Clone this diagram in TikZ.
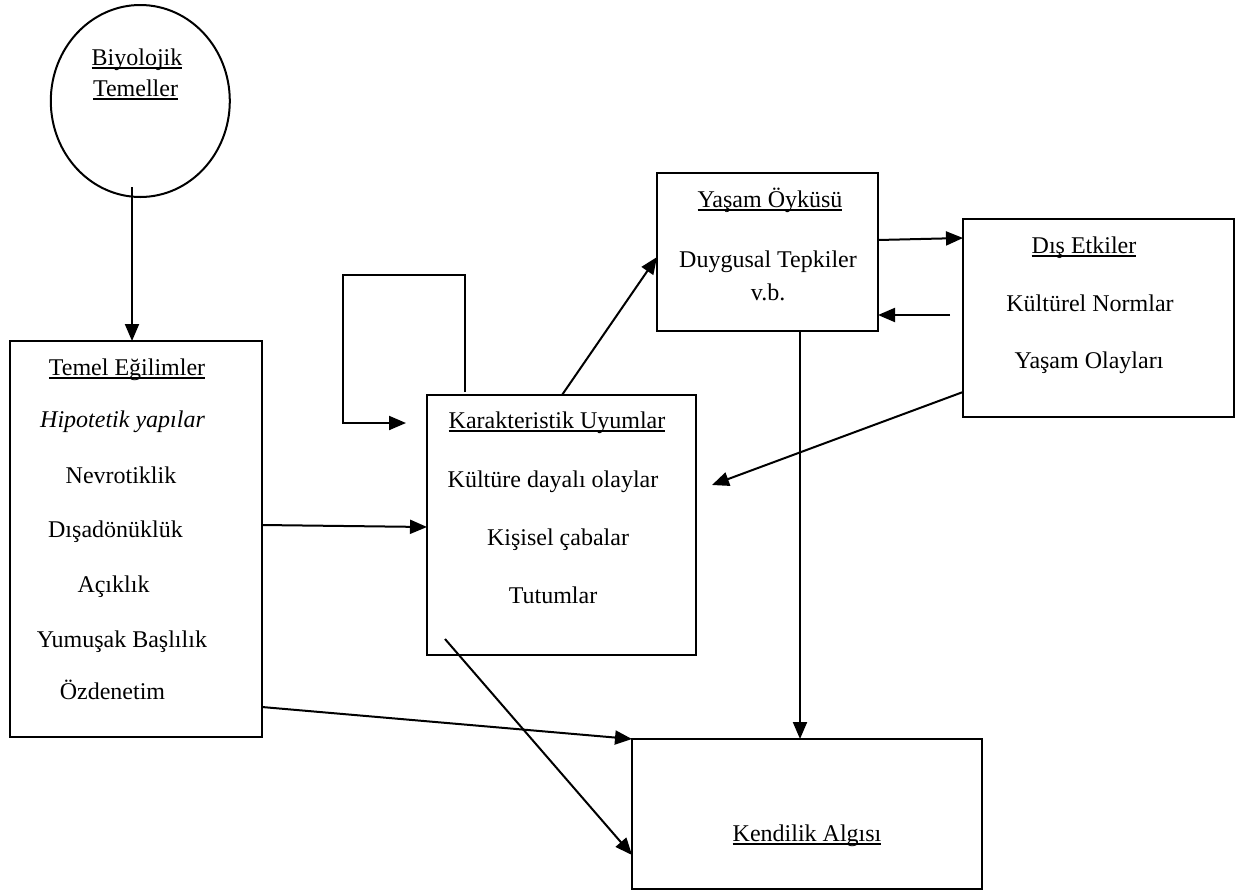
\documentclass[tikz,border=0pt]{standalone}
\usepackage{fontspec}
\setmainfont{Liberation Serif}
\usetikzlibrary{arrows.meta,shapes.geometric}
\newcommand\ulx[1]{\setbox0\hbox{#1}\rlap{\rule[-4pt]{\wd0}{1.8pt}}\box0}
\tikzset{
  box/.style={draw,line width=2pt,inner sep=0pt,outer sep=0pt},
  txt/.style={anchor=base,inner sep=0pt,font=\fontsize{24}{28}\selectfont},
  arr/.style={line width=2pt,-{Triangle[length=17pt,width=14pt]}},
  ln/.style={line width=2pt}
}
\begin{document}
\begin{tikzpicture}[x=1pt,y=-1pt]
\useasboundingbox (0,0) rectangle (1250,892);
% shapes
\node[box,ellipse,minimum width=179,minimum height=192] (bio) at (140.3,101) {};
\node[box,minimum width=252,minimum height=396] (temel) at (136,539) {};
\node[box,minimum width=269,minimum height=260] (karak) at (561.5,525) {};
\node[box,minimum width=221,minimum height=158] (yasam) at (767.5,252) {};
\node[box,minimum width=271,minimum height=198] (dis) at (1098.5,318) {};
\node[box,minimum width=350,minimum height=150] (kend) at (807,814) {};
% texts
\node[txt] (t1) at (137,65) {\ulx{Biyolojik}};
\node[txt] (t2) at (135.5,96) {\ulx{Temeller}};
\node[txt] (t3) at (127,375) {\ulx{Temel Eğilimler}};
\node[txt] (t4) at (122.5,427) {\itshape Hipotetik yapılar};
\node[txt] (t5) at (121,483) {Nevrotiklik};
\node[txt] (t6) at (115.5,537) {Dışadönüklük};
\node[txt] (t7) at (113.5,592) {Açıklık};
\node[txt] (t8) at (122,647) {Yumuşak Başlılık};
\node[txt] (t9) at (112.5,699) {Özdenetim};
\node[txt] (k1) at (557,428) {\ulx{Karakteristik Uyumlar}};
\node[txt] (k2) at (553,487) {Kültüre dayalı olaylar};
\node[txt] (k3) at (558,545) {Kişisel çabalar};
\node[txt] (k4) at (553,603) {Tutumlar};
\node[txt] (y1) at (770,207) {\ulx{Yaşam Öyküsü}};
\node[txt] (y2) at (768,267) {Duygusal Tepkiler};
\node[txt] (y3) at (768,300) {v.b.};
\node[txt] (d1) at (1084,253) {\ulx{Dış Etkiler}};
\node[txt] (d2) at (1090,311) {Kültürel Normlar};
\node[txt] (d3) at (1089,368) {Yaşam Olayları};
\node[txt] (e1) at (807,841) {\ulx{Kendilik Algısı}};
% free ends
\coordinate (b1) at (132,187);
\coordinate (lA) at (465,392);
\coordinate (lB) at (406,423);
\coordinate (dA) at (950,315);
\coordinate (dB) at (712,485);
\coordinate (kA) at (445,639);
% connectors
\draw[arr] (b1) -- (temel.north -| b1);
\draw[arr] (lA) |- (343,275) |- (lB);
\draw[arr] (temel.east |- 0,525) -- (karak.west |- 0,527);
\draw[arr] (karak.north -| 562,0) -- (yasam.west |- 0,257);
\draw[arr] (yasam.east |- 0,240) -- (dis.west |- 0,238);
\draw[arr] (dA) -- (yasam.east |- dA);
\draw[arr] (dis.west |- 0,392) -- (dB);
\draw[arr] (yasam.south -| 800,0) -- (kend.north -| 800,0);
\draw[arr] (temel.east |- 0,707) -- (kend.north west);
\draw[arr] (kA) -- (kend.west |- 0,855);
\end{tikzpicture}
\end{document}
